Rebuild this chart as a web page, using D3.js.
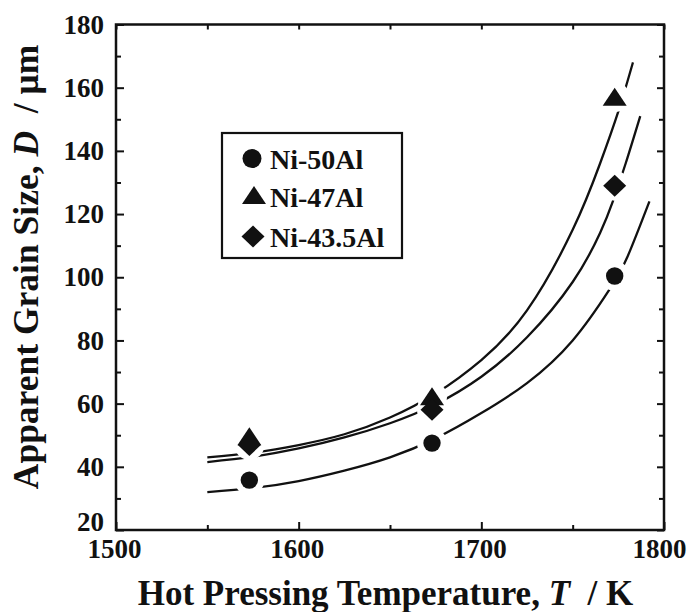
<!DOCTYPE html>
<html><head><meta charset="utf-8">
<script src="https://cdn.jsdelivr.net/npm/d3@7/dist/d3.min.js"></script>
<style>
body{margin:0;background:#fff;}
svg{display:block;}
text{font-family:"Liberation Serif","Times New Roman",serif;font-weight:bold;fill:#111;}
</style></head>
<body><svg id="c" width="689" height="612"></svg>
<script>
// ---- data ----
const temps = [1573, 1673, 1773];
const ni50 = [35.8, 47.5, 100.4];
const ni47 = [49.5, 62.2, 157];
const ni435 = [46.9, 58.1, 129];

const fit47T = [1550, 1575, 1600, 1625, 1650, 1675, 1700, 1725, 1750, 1765, 1775, 1783];
const fit47D = [43, 44.5, 46.9, 50.3, 55.6, 63.2, 73.8, 89.5, 115, 136, 152.5, 168];
const fit435T = [1550, 1575, 1600, 1625, 1650, 1675, 1700, 1725, 1750, 1765, 1772, 1779, 1787];
const fit435D = [41.5, 43.2, 45.8, 49.3, 53.8, 59.8, 68.5, 81, 98.5, 114, 124, 136, 151];
const fit50T = [1550, 1575, 1600, 1625, 1650, 1675, 1700, 1725, 1750, 1770, 1780, 1792];
const fit50D = [32, 33.3, 35.5, 38.8, 43, 49, 57, 66.5, 80, 96, 106.5, 124];

const xMajor = [1500, 1600, 1700, 1800];
const xMinor = [1550, 1650, 1750];
const yMajor = [20, 40, 60, 80, 100, 120, 140, 160, 180];
const yMinor = [30, 50, 70, 90, 110, 130, 150, 170];
const legendLabels = ["Ni-50Al", "Ni-47Al", "Ni-43.5Al"];

// ---- layout ----
const L = 116, R = 664, T = 24.5, B = 530;
const svg = d3.select("#c");
const x = d3.scaleLinear().domain([1500, 1800]).range([L, R]);
const y = d3.scaleLinear().domain([20, 180]).range([B, T]);
const ink = "#111";

function styleAxis(g){ g.attr("font-family", null); g.select(".domain").remove(); g.selectAll("line").attr("stroke", ink).attr("stroke-width", 2); g.selectAll("text").attr("font-size", 27).attr("fill", ink); }

// bottom
svg.append("g").attr("transform", `translate(0,${B})`)
  .call(d3.axisBottom(x).tickValues(xMajor).tickSizeInner(-8).tickSizeOuter(0).tickPadding(9).tickFormat(d3.format("d")))
  .call(styleAxis).call(g => g.selectAll("text").attr("dx", d => d === 1800 ? -5 : -2));
svg.append("g").attr("transform", `translate(0,${B})`)
  .call(d3.axisBottom(x).tickValues(xMinor).tickSizeInner(-5).tickSizeOuter(0).tickFormat(""))
  .call(styleAxis);
// top
svg.append("g").attr("transform", `translate(0,${T})`)
  .call(d3.axisTop(x).tickValues(xMajor.concat(xMinor)).tickSizeInner(-5).tickSizeOuter(0).tickFormat(""))
  .call(styleAxis);
// left
svg.append("g").attr("transform", `translate(${L},0)`)
  .call(d3.axisLeft(y).tickValues(yMajor).tickSizeInner(-8).tickSizeOuter(0).tickPadding(12).tickFormat(d3.format("d")))
  .call(styleAxis).call(g => g.selectAll("text").attr("y", d => d === 20 ? -8 : 0));
svg.append("g").attr("transform", `translate(${L},0)`)
  .call(d3.axisLeft(y).tickValues(yMinor).tickSizeInner(-5).tickSizeOuter(0).tickFormat(""))
  .call(styleAxis);
// right
svg.append("g").attr("transform", `translate(${R},0)`)
  .call(d3.axisRight(y).tickValues(yMajor).tickSizeInner(-7).tickSizeOuter(0).tickFormat(""))
  .call(styleAxis);
svg.append("g").attr("transform", `translate(${R},0)`)
  .call(d3.axisRight(y).tickValues(yMinor).tickSizeInner(-5).tickSizeOuter(0).tickFormat(""))
  .call(styleAxis);

// frame
svg.append("rect").attr("x", L).attr("y", T).attr("width", R - L).attr("height", B - T)
  .attr("fill", "none").attr("stroke", ink).attr("stroke-width", 2.5);

// mask with gaps around markers
const defs = svg.append("defs");
const mask = defs.append("mask").attr("id", "gaps").attr("maskUnits", "userSpaceOnUse")
  .attr("x", 0).attr("y", 0).attr("width", 689).attr("height", 612);
mask.append("rect").attr("width", 689).attr("height", 612).attr("fill", "white");
[ni50, ni47, ni435].forEach(arr => arr.forEach((v, i) => {
  mask.append("circle").attr("cx", x(temps[i])).attr("cy", y(v)).attr("r", 15).attr("fill", "black");
}));

const line = d3.line().x(d => x(d[0])).y(d => y(d[1])).curve(d3.curveNatural);
const curves = svg.append("g").attr("mask", "url(#gaps)");
[[fit47T, fit47D], [fit435T, fit435D], [fit50T, fit50D]].forEach(([tt, dd]) => {
  curves.append("path").datum(tt.map((t, i) => [t, dd[i]]))
    .attr("d", line).attr("fill", "none").attr("stroke", ink).attr("stroke-width", 2.3);
});

// markers
const triPath = "M0,-11 L12,7 L-12,7 Z";
const diaPath = "M0,-11 L11.5,0 L0,11 L-11.5,0 Z";
const mk = svg.append("g").attr("fill", ink);
temps.forEach((t, i) => {
  mk.append("circle").attr("cx", x(t)).attr("cy", y(ni50[i])).attr("r", 8.7);
  mk.append("path").attr("d", triPath).attr("transform", `translate(${x(t)},${y(ni47[i]) + 1.5})`);
  mk.append("path").attr("d", diaPath).attr("transform", `translate(${x(t)},${y(ni435[i])})`);
});

// legend
const lg = svg.append("g");
lg.append("rect").attr("x", 222).attr("y", 133).attr("width", 180).attr("height", 125)
  .attr("fill", "#fff").attr("stroke", ink).attr("stroke-width", 2.2);
const rowsY = [158.5, 196, 236.5];
lg.append("circle").attr("cx", 252).attr("cy", rowsY[0]).attr("r", 9.5).attr("fill", ink);
lg.append("path").attr("d", triPath).attr("transform", `translate(254,${rowsY[1] + 1})`).attr("fill", ink);
lg.append("path").attr("d", diaPath).attr("transform", `translate(253,${rowsY[2]})`).attr("fill", ink);
legendLabels.forEach((s, i) => {
  lg.append("text").attr("x", 270).attr("y", rowsY[i] + 10.5).attr("font-size", 28).text(s);
});

// axis titles
const xt = svg.append("text").attr("x", 385.5).attr("y", 605).attr("text-anchor", "middle")
  .attr("font-size", 35).style("white-space", "pre");
xt.append("tspan").text("Hot Pressing Temperature, ");
xt.append("tspan").attr("font-style", "italic").text("T");
xt.append("tspan").text("  / K");

const yt = svg.append("text").attr("transform", "translate(38,267) rotate(-90)").attr("text-anchor", "middle")
  .attr("font-size", 35.5).style("white-space", "pre");
yt.append("tspan").text("Apparent Grain Size, ");
yt.append("tspan").attr("font-style", "italic").text("D");
yt.append("tspan").text("  / μm");
</script></body></html>
